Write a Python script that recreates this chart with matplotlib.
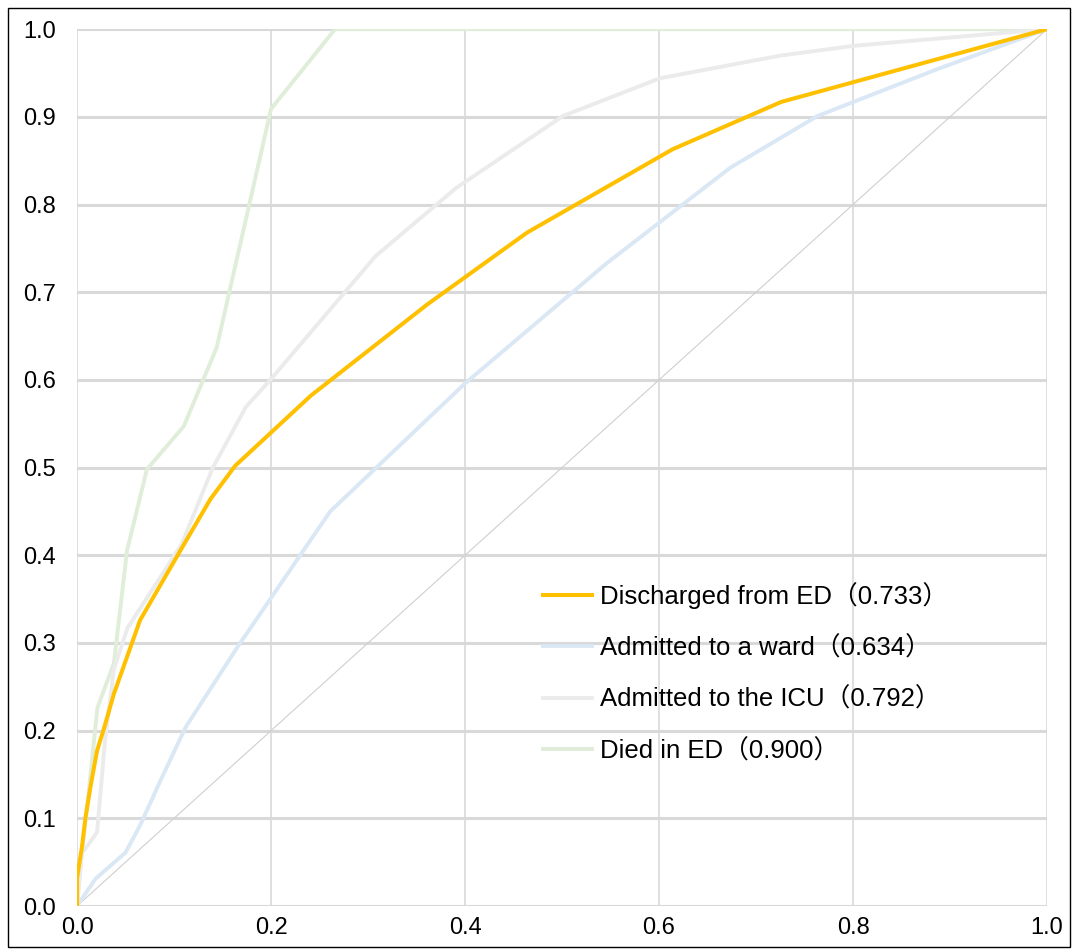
import numpy as np
import matplotlib.pyplot as plt
from matplotlib.patches import Rectangle

# ROC curve points
discharged_fpr = [0, 0, 0.005, 0.0086, 0.0137, 0.0206, 0.0275, 0.038, 0.065, 0.11, 0.1375, 0.163, 0.241, 0.361, 0.464, 0.614, 0.726, 1.0]
discharged_tpr = [0, 0.032, 0.067, 0.10, 0.135, 0.177, 0.2015, 0.242, 0.326, 0.412, 0.464, 0.502, 0.582, 0.686, 0.768, 0.863, 0.917, 1.0]

ward_fpr = [0, 0.019, 0.05, 0.065, 0.086, 0.112, 0.167, 0.261, 0.40, 0.546, 0.6735, 0.7635, 0.886, 1.0]
ward_tpr = [0, 0.031, 0.061, 0.092, 0.143, 0.204, 0.298, 0.450, 0.596, 0.733, 0.842, 0.901, 0.954, 1.0]

icu_fpr = [0, 0.005, 0.0206, 0.029, 0.038, 0.052, 0.108, 0.14, 0.174, 0.2, 0.3076, 0.391, 0.501, 0.601, 0.726, 0.801, 1.0]
icu_tpr = [0, 0.06, 0.084, 0.19, 0.27, 0.317, 0.413, 0.50, 0.569, 0.601, 0.741, 0.819, 0.901, 0.944, 0.970, 0.981, 1.0]

died_fpr = [0, 0.003, 0.012, 0.021, 0.038, 0.0515, 0.072, 0.11, 0.144, 0.2, 0.266, 1.0]
died_tpr = [0, 0.04, 0.13, 0.226, 0.277, 0.405, 0.498, 0.547, 0.637, 0.909, 1.0, 1.0]

labels = ['Discharged from ED（0.733）', 'Admitted to a ward（0.634）',
          'Admitted to the ICU（0.792）', 'Died in ED（0.900）']
colors = ['#FFC000', '#DAE7F4', '#EBEBEB', '#E0EDD8']
ticks = [0.0, 0.1, 0.2, 0.3, 0.4, 0.5, 0.6, 0.7, 0.8, 0.9, 1.0]
xticks = [0.0, 0.2, 0.4, 0.6, 0.8, 1.0]

fonts = ['Liberation Sans', 'Noto Sans CJK SC', 'DejaVu Sans']
plt.rcParams['font.family'] = fonts

fig = plt.figure(figsize=(10.73, 9.49), dpi=100)
ax = fig.add_axes([0.0718, 0.0453, 0.904, 0.924])

# outer frame
fig.patches.append(Rectangle((8 / 1073, 2 / 949), 1062 / 1073, 939 / 949, transform=fig.transFigure,
                             fill=False, edgecolor='black', linewidth=1.0))

# grid
for t in ticks:
    ax.axhline(t, color='#D9D9D9', linewidth=2.2, zorder=0)
for t in xticks:
    ax.axvline(t, color='#D9D9D9', linewidth=1.2, zorder=0)

# diagonal
ax.plot([0, 1], [0, 1], color='#CFCFCF', linewidth=0.8, zorder=1)

ax.plot(died_fpr, died_tpr, color=colors[3], linewidth=2.8, label=labels[3], zorder=2)
ax.plot(icu_fpr, icu_tpr, color=colors[2], linewidth=2.8, label=labels[2], zorder=2)
ax.plot(ward_fpr, ward_tpr, color=colors[1], linewidth=2.8, label=labels[1], zorder=2)
ax.plot(discharged_fpr, discharged_tpr, color=colors[0], linewidth=2.9, label=labels[0], zorder=3)

ax.set_xlim(0, 1)
ax.set_ylim(0, 1)
ax.set_xticks(xticks)
ax.set_yticks(ticks)
ax.set_xticklabels(['%.1f' % t for t in xticks])
ax.set_yticklabels(['%.1f' % t for t in ticks])
ax.tick_params(axis='both', length=0, labelsize=17, colors='black')
ax.tick_params(axis='y', pad=15)
ax.tick_params(axis='x', pad=8)
for s in ax.spines.values():
    s.set_visible(False)

handles, labs = ax.get_legend_handles_labels()
order = [3, 2, 1, 0]
leg = ax.legend([handles[i] for i in order], [labs[i] for i in order],
                loc='upper left', bbox_to_anchor=(0.457, 0.396), frameon=False,
                fontsize=18.5, handlelength=1.9, handletextpad=0.3, labelspacing=1.05)

plt.savefig('out.png', dpi=100)
